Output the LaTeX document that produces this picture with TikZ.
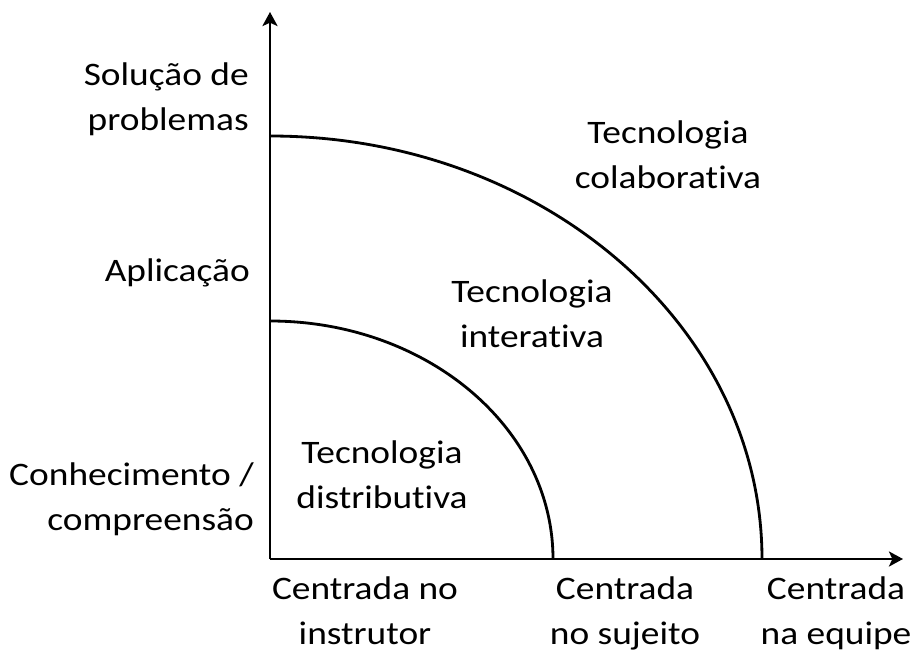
\documentclass[tikz,border=0pt]{standalone}
\usepackage{fontspec}
\setmainfont{Carlito}[FakeStretch=1.14, Ligatures=NoCommon]
\usetikzlibrary{arrows.meta}

\tikzset{
  eixo/.style={black, line width=2.4pt, -{Stealth[length=0.42cm,width=0.45cm,inset=0.1cm]}},
  curva/.style={black, line width=2.4pt},
  rotulo/.style={inner sep=0pt, font=\fontsize{28}{38.4}\selectfont, align=center},
  nivel/.style={rotulo, align=right, anchor=east}
}

\begin{document}
\begin{tikzpicture}
  \useasboundingbox (-8.1,-2.76) rectangle (19.53,16.77);

	%# EIXOS
  \coordinate (O) at (0,0);
  \coordinate (topo) at (0,16.41);
  \coordinate (fim) at (18.99,0);
  \draw[eixo] (O) -- (topo);
  \draw[eixo] (O) -- (fim);

	%# QUARTOS DE ELIPSE
  \draw[curva] (0,7.14) arc[start angle=90, end angle=0, x radius=8.49, y radius=7.14];
  \draw[curva] (0,12.69) arc[start angle=90, end angle=0, x radius=14.76, y radius=12.69];

	%# NIVEIS (EIXO VERTICAL)
  \node[nivel] (sol) at (-0.63,13.8) {Solução de\\problemas};
  \node[nivel] (apl) at (-0.6,8.58) {Aplicação};
  \node[nivel] (con) at (-0.48,1.8) {Conhecimento /\\compreensão};

	%# CENTRADA (EIXO HORIZONTAL)
  \node[rotulo] (ins) at (2.85,-1.55) {Centrada no\\instrutor};
  \node[rotulo] (suj) at (10.65,-1.62) {Centrada\\no sujeito};
  \node[rotulo] (equ) at (16.98,-1.62) {Centrada\\na equipe};

	%# TECNOLOGIAS
  \node[rotulo] (dis) at (3.36,2.535) {Tecnologia\\distributiva};
  \node[rotulo] (int) at (7.86,7.35) {Tecnologia\\interativa};
  \node[rotulo] (col) at (11.94,12.135) {Tecnologia\\colaborativa};
\end{tikzpicture}
\end{document}
